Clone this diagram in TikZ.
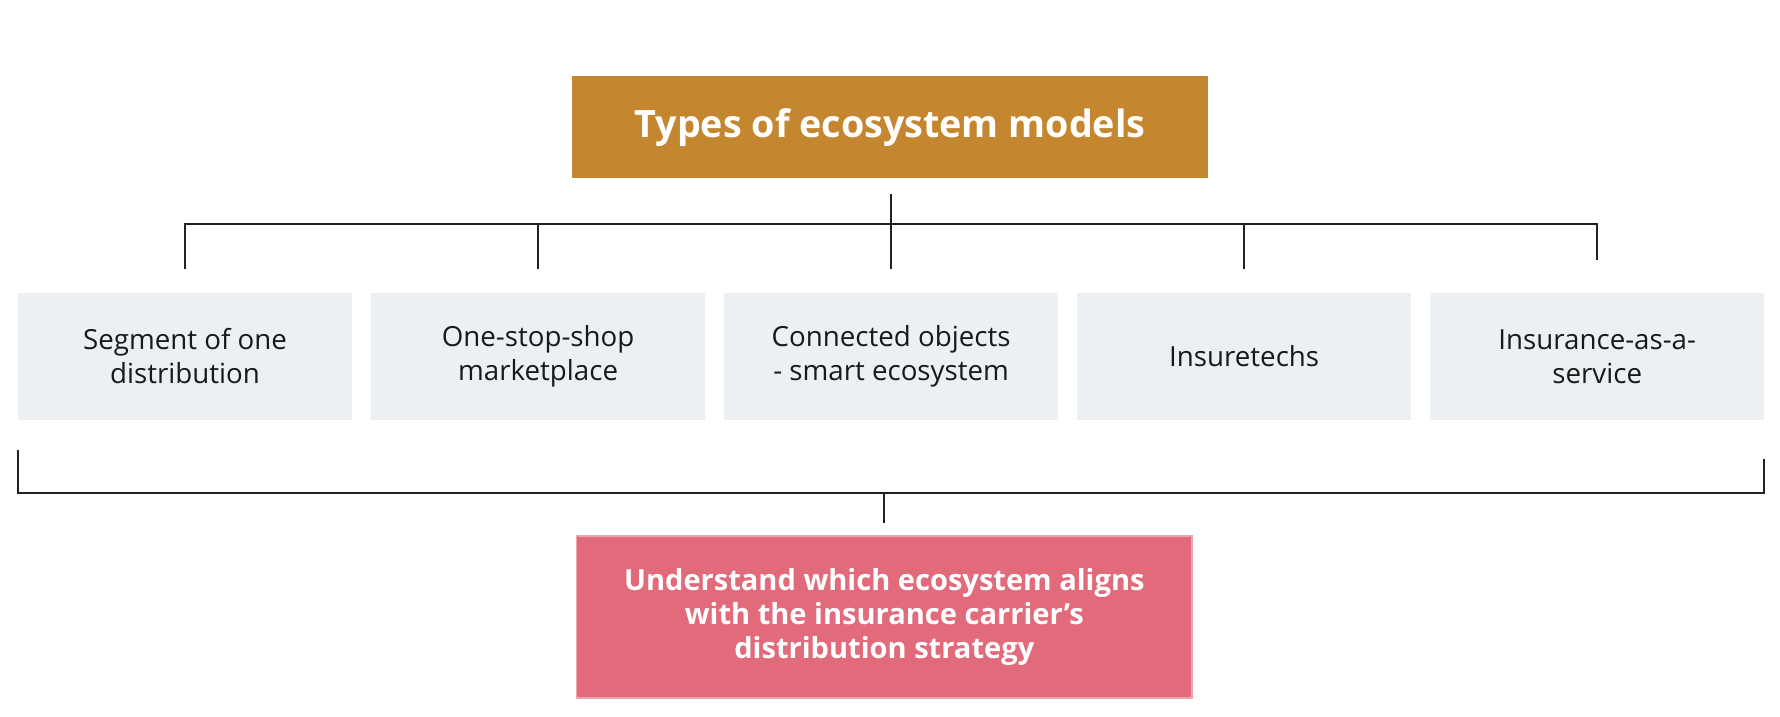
\documentclass[tikz,border=0pt]{standalone}
\usepackage{fontspec}
\setmainfont{Open Sans}
\usetikzlibrary{positioning}
\definecolor{titlecol}{RGB}{196,134,47}
\definecolor{modelcol}{RGB}{237,240,243}
\definecolor{goalcol}{RGB}{225,106,123}
\definecolor{linecol}{RGB}{34,34,34}
\tikzstyle{every model} = []
\tikzstyle{model} = [fill=modelcol, minimum width=147pt, minimum height=56pt, outer sep=0pt, align=center, text=black!90, font=\fontsize{12.2}{15}\selectfont, every model]
\tikzstyle{link} = [draw=linecol, line width=0.8pt]

\begin{document}
\begin{tikzpicture}[x=0.5pt, y=-0.5pt, node distance=8.5pt]
\useasboundingbox (0,0) rectangle (1568,631);
\node[fill=titlecol, minimum width=280pt, minimum height=45pt, outer sep=0pt, text=white, font=\bfseries\fontsize{16.6}{20}\selectfont] (types) at (784,112) {Types of ecosystem models};

\node[model] (segment) at (163,314) {Segment of one\\distribution};
\node[model, right=of segment] (shop) {One-stop-shop\\marketplace};
\node[model, right=of shop] (objects) {Connected objects\\- smart ecosystem};
\node[model, right=of objects] (insuretech) {Insuretechs};
\node[model, right=of insuretech] (service) {Insurance-as-a-\\service};

\node[fill=goalcol, draw=goalcol!60!white, line width=0.6pt, minimum width=271pt, minimum height=71.5pt, outer sep=0pt, align=center, text=white, font=\bfseries\fontsize{12.8}{15}\selectfont] (goal) at (779,543.5) {Understand which ecosystem aligns\\with the insurance carrier’s\\distribution strategy};

% top fork
\coordinate (bar) at (0,197);
\coordinate (base) at (0,434);
\draw[link] ([yshift=10.5pt]objects.north) -- ++(0,-66);
\draw[link] ([yshift=10.5pt]segment.north) |- (bar -| service.north) -- ([yshift=14.5pt]service.north);
\draw[link] ([yshift=10.5pt]shop.north) -- (bar -| shop.north);
\draw[link] ([yshift=10.5pt]insuretech.north) -- (bar -| insuretech.north);

% bottom bracket
\draw[link] ([yshift=-13pt]segment.south west) |- (base -| service.south east) -- ([yshift=-17pt]service.south east);
\draw[link] (base -| goal.north) -- ([yshift=5.5pt]goal.north);
\end{tikzpicture}
\end{document}
